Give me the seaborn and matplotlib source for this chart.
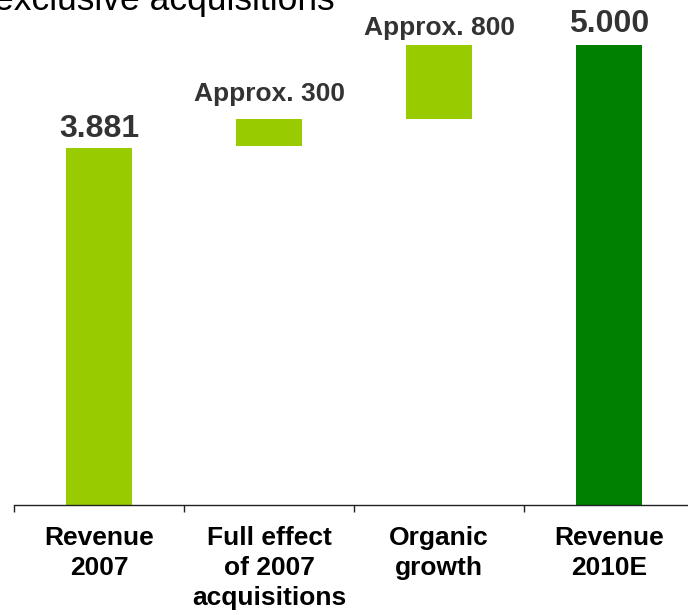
import matplotlib
matplotlib.use("Agg")
import matplotlib.pyplot as plt
import seaborn as sns

categories = ["Revenue\n2007", "Full effect\nof 2007\nacquisitions", "Organic\ngrowth", "Revenue\n2010E"]
heights = [3881, 300, 800, 5000]
bases = [0, 3900, 4200, 0]
value_labels = ["3.881", "Approx. 300", "Approx. 800", "5.000"]
colors = ["#99CC00", "#99CC00", "#99CC00", "#008000"]

sns.set_style("white")
plt.rcParams["font.family"] = ["Liberation Sans", "DejaVu Sans"]

fig = plt.figure(figsize=(6.88, 6.15), dpi=100)
ax = fig.add_axes([14/688, 110/615, 680/688, 505/615])

sns.barplot(x=categories, y=heights, hue=categories, palette=colors, legend=False,
            width=0.39, ax=ax, saturation=1, order=categories, hue_order=categories)
for p, b in zip(ax.patches, bases):
    p.set_y(b)
    p.set_linewidth(0)

ax.set_xlim(-0.5, 3.5)
ax.set_ylim(0, 5489)
ax.set_yticks([])
ax.set_ylabel("")
for s in ["top", "right", "left"]:
    ax.spines[s].set_visible(False)
ax.spines["bottom"].set_color("#222222")
ax.spines["bottom"].set_linewidth(1.0)

ax.set_xticks([0, 1, 2, 3])
ax.set_xticklabels(categories, fontsize=19, fontweight="bold", color="black", linespacing=1.32)
ax.tick_params(axis="x", which="major", length=0, pad=15)
ax.set_xticks([-0.5, 0.5, 1.5, 2.5, 3.5], minor=True)
ax.tick_params(axis="x", which="minor", bottom=True, length=5, width=1, color="#222222", direction="out")
for lbl in ax.get_xticklabels():
    lbl.set_verticalalignment("top")

offsets_px = [11, 18, 10, 13]
for i, (h, b, t, off) in enumerate(zip(heights, bases, value_labels, offsets_px)):
    big = i in (0, 3)
    ax.annotate(t, xy=(i, b + h), xytext=(0, off), textcoords="offset pixels",
                ha="center", va="baseline", fontsize=23 if big else 19,
                fontweight="bold", color="#333333")

fig.text(-0.008, 1 - 10/615, "exclusive acquisitions", fontsize=25.5, color="black",
         va="baseline", ha="left")

fig.savefig("out.png", dpi=100)
